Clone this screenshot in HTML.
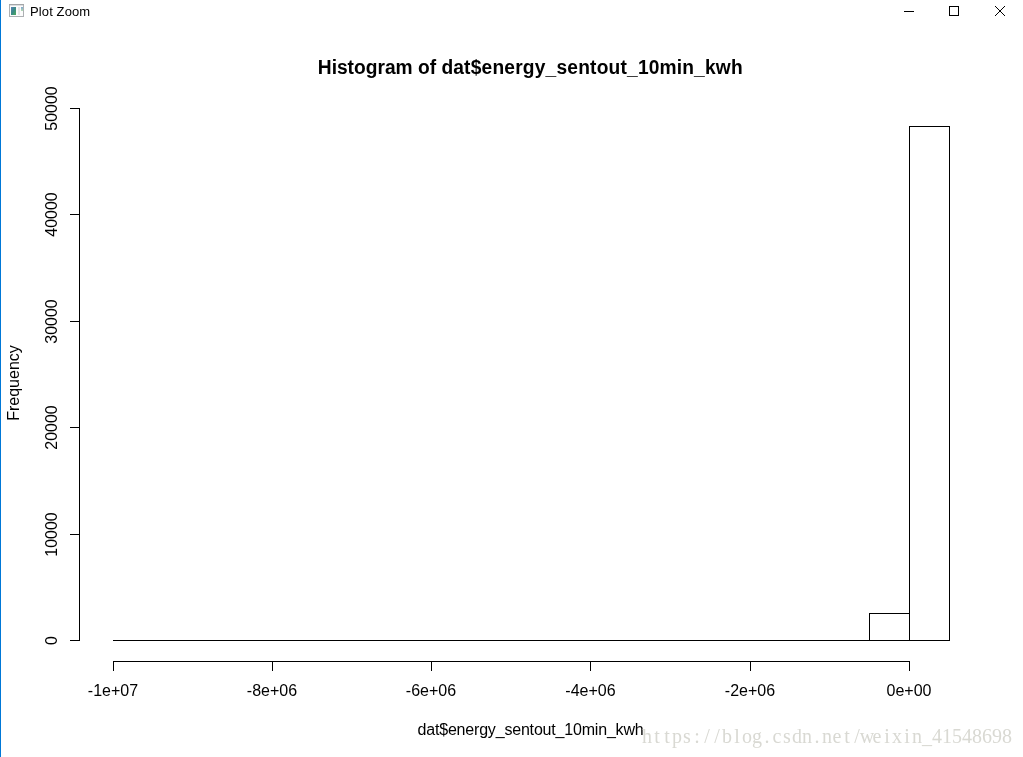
<!DOCTYPE html>
<html>
<head>
<meta charset="utf-8">
<title>Plot Zoom</title>
<style>
html,body{margin:0;padding:0;background:#fff;}
body{width:1023px;height:757px;overflow:hidden;position:relative;font-family:"Liberation Sans",sans-serif;}
#win{position:absolute;left:0;top:0;width:1023px;height:757px;background:#fff;overflow:hidden;}
#lb{position:absolute;left:0;top:0;width:1px;height:757px;background:#0078d7;}
#ttl{position:absolute;left:30px;top:4px;font-size:13px;line-height:15px;color:#000;white-space:nowrap;letter-spacing:0.12px;}
svg{position:absolute;left:0;top:0;}
svg text{font-family:"Liberation Sans",sans-serif;fill:#000;}
.ax{font-size:16px;}
.wm{font-family:"Liberation Serif","Noto Serif CJK SC",serif;font-size:20px;fill:#d9d9d3;}
</style>
</head>
<body>
<div id="win">
<div id="lb"></div>
<div id="ttl">Plot Zoom</div>
<svg width="1023" height="757" viewBox="0 0 1023 757">
  <defs>
    <linearGradient id="ig1" x1="0" y1="0" x2="1" y2="1">
      <stop offset="0" stop-color="#5a80b8"/>
      <stop offset="0.5" stop-color="#3a8a84"/>
      <stop offset="1" stop-color="#4cab5c"/>
    </linearGradient>
    <linearGradient id="ig2" x1="0" y1="0" x2="0" y2="1">
      <stop offset="0" stop-color="#7fa6d0"/>
      <stop offset="1" stop-color="#b4dcb0"/>
    </linearGradient>
  </defs>
  <!-- window icon -->
  <g shape-rendering="crispEdges">
    <rect x="9.5" y="4.5" width="14" height="12" fill="#fcfcfc" stroke="#adb0b3"/>
    <rect x="9" y="4" width="15" height="1" fill="#a4a6a8"/>
    <rect x="10" y="5" width="13" height="1" fill="#dcdee0"/>
    <rect x="11" y="7" width="5" height="8" fill="url(#ig1)"/>
    <rect x="18" y="7" width="2" height="8" fill="#e6e6e6"/>
    <rect x="21" y="7" width="2" height="4" fill="url(#ig2)"/>
  </g>
  <!-- window controls -->
  <g shape-rendering="crispEdges" fill="none" stroke="#000" stroke-width="1">
    <line x1="904" y1="11.5" x2="914" y2="11.5"/>
    <rect x="949.5" y="6.5" width="9" height="9"/>
  </g>
  <path shape-rendering="crispEdges" fill="#000" d="M995 6h1v1h-1zM1004 6h1v1h-1zM996 7h1v1h-1zM1003 7h1v1h-1zM997 8h1v1h-1zM1002 8h1v1h-1zM998 9h1v1h-1zM1001 9h1v1h-1zM999 10h1v1h-1zM1000 10h1v1h-1zM1000 11h1v1h-1zM999 11h1v1h-1zM1001 12h1v1h-1zM998 12h1v1h-1zM1002 13h1v1h-1zM997 13h1v1h-1zM1003 14h1v1h-1zM996 14h1v1h-1zM1004 15h1v1h-1zM995 15h1v1h-1z"/>
  <!-- plot lines -->
  <g shape-rendering="crispEdges" fill="#000">
    <!-- y axis -->
    <rect x="79" y="108" width="1" height="533"/>
    <rect x="70" y="108" width="10" height="1"/>
    <rect x="70" y="214" width="10" height="1"/>
    <rect x="70" y="321" width="10" height="1"/>
    <rect x="70" y="427" width="10" height="1"/>
    <rect x="70" y="534" width="10" height="1"/>
    <rect x="70" y="640" width="10" height="1"/>
    <!-- x axis -->
    <rect x="113" y="661" width="797" height="1"/>
    <rect x="113" y="661" width="1" height="10"/>
    <rect x="272" y="661" width="1" height="10"/>
    <rect x="431" y="661" width="1" height="10"/>
    <rect x="590" y="661" width="1" height="10"/>
    <rect x="750" y="661" width="1" height="10"/>
    <rect x="909" y="661" width="1" height="10"/>
    <!-- histogram -->
    <rect x="113" y="640" width="837" height="1"/>
    <rect x="869" y="613" width="1" height="28"/>
    <rect x="869" y="613" width="41" height="1"/>
    <rect x="909" y="126" width="1" height="515"/>
    <rect x="909" y="126" width="41" height="1"/>
    <rect x="949" y="126" width="1" height="515"/>
  </g>
  <!-- title -->
  <text transform="translate(317.6,74) scale(1,1.03)" x="0.2 14.1 19.4 30.0 36.4 48.1 59.8 67.3 78.0 95.0 100.3 112.1 118.5 123.8 135.7 146.5 153.1 164.0 174.8 186.7 197.6 205.2 217.1 228.0 238.8 249.7 260.6 272.5 279.1 291.0 302.9 309.5 320.4 331.2 342.0 359.2 364.6 376.5 387.3 398.2 413.3" y="0" font-size="19.2" font-weight="bold">Histogram of dat$energy_sentout_10min_kwh</text>
  <!-- x labels -->
  <g class="ax" text-anchor="middle">
    <text x="113" y="696">-1e+07</text>
    <text x="272" y="696">-8e+06</text>
    <text x="431" y="696">-6e+06</text>
    <text x="590.5" y="696">-4e+06</text>
    <text x="750" y="696">-2e+06</text>
    <text x="909" y="696">0e+00</text>
    <text x="417.5" y="735" text-anchor="start" textLength="226.2" lengthAdjust="spacing">dat$energy_sentout_10min_kwh</text>
  </g>
  <!-- y labels -->
  <g class="ax" text-anchor="middle">
    <text transform="translate(57,640.5) rotate(-90)">0</text>
    <text transform="translate(57,534.5) rotate(-90)">10000</text>
    <text transform="translate(57,427.5) rotate(-90)">20000</text>
    <text transform="translate(57,321.5) rotate(-90)">30000</text>
    <text transform="translate(57,214.5) rotate(-90)">40000</text>
    <text transform="translate(57,108.5) rotate(-90)">50000</text>
    <text transform="translate(19,383) rotate(-90)">Frequency</text>
  </g>
  <!-- watermark -->
  <text class="wm" y="743" text-anchor="middle" x="647 657 667 677 687 697 707 717 727 737 747 757 767 777 787 797 807 817 827 837 847 857 867 877 887 897 907 917 927 937 947 957 967 977 987 997 1007">https://blog.csdn.net/weixin_41548698</text>
</svg>
</div>
</body>
</html>
